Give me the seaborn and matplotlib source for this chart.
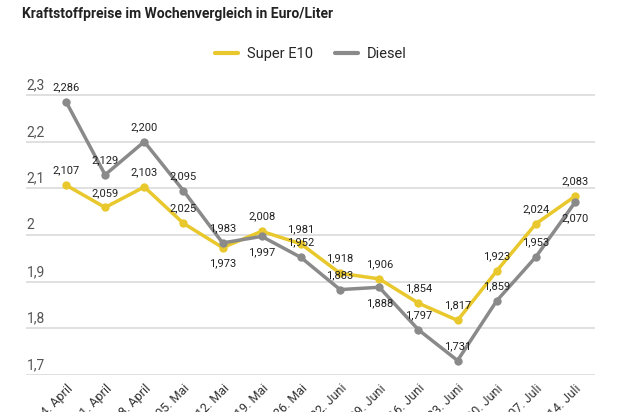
import pandas as pd
import seaborn as sns
import matplotlib.pyplot as plt

# Data
wochen = ["14. April", "21. April", "28. April", "05. Mai", "12. Mai", "19. Mai", "26. Mai",
          "02. Juni", "09. Juni", "16. Juni", "23. Juni", "30. Juni", "07. Juli", "14. Juli"]
super_e10 = [2.107, 2.059, 2.103, 2.025, 1.973, 2.008, 1.981,
             1.918, 1.906, 1.854, 1.817, 1.923, 2.024, 2.083]
diesel = [2.286, 2.129, 2.200, 2.095, 1.983, 1.997, 1.952,
          1.883, 1.888, 1.797, 1.731, 1.859, 1.953, 2.070]

# label above (1) or below (-1) the point
pos_e10 = [1, 1, 1, 1, -1, 1, 1, 1, 1, 1, 1, 1, 1, 1]
pos_diesel = [1, 1, 1, 1, 1, -1, 1, 1, -1, 1, 1, 1, 1, -1]

gelb = "#e8c82c"
grau = "#8a8a8a"

df = pd.DataFrame({"Woche": list(range(len(wochen))) * 2,
                   "Preis": super_e10 + diesel,
                   "Sorte": ["Super E10"] * len(wochen) + ["Diesel"] * len(wochen)})

sns.set_style("white")
plt.rcParams['font.family'] = ['Roboto', 'DejaVu Sans']

fig = plt.figure(figsize=(6.3, 4.12), dpi=100)
ax = fig.add_axes([26 / 630, 1 - 375 / 412, (595 - 26) / 630, (375 - 80) / 412])

sns.lineplot(data=df, x="Woche", y="Preis", hue="Sorte", palette=[gelb, grau],
             marker="o", markersize=6, markeredgewidth=0, linewidth=2.5, ax=ax)

# Data labels
for vals, pos in [(super_e10, pos_e10), (diesel, pos_diesel)]:
    for i, (v, p) in enumerate(zip(vals, pos)):
        txt = f"{v:.3f}".replace(".", ",")
        ax.annotate(txt, (i, v), xytext=(0, 7 if p > 0 else -8), textcoords="offset points",
                    ha="center", va="bottom" if p > 0 else "top", fontsize=8, color="#222222")

ax.set_xlim(-1.02, 13.51)
ax.set_ylim(1.7, 2.3 + 0.6 * (95 - 80) / 280)
yt = [1.7, 1.8, 1.9, 2.0, 2.1, 2.2, 2.3]
ax.set_yticks(yt)
ax.set_yticklabels([])
for t in yt:
    ax.axhline(t, color="#dadada", linewidth=1.2, zorder=0)
    lab = f"{t:g}".replace(".", ",")
    ax.text(-1.0, t + 0.006, lab, ha="left", va="bottom", fontsize=10, color="#555555")

ax.set_xticks(range(len(wochen)))
ax.set_xticklabels(wochen, rotation=45, ha="right", rotation_mode="anchor",
                   fontsize=9, color="#333333")
ax.tick_params(axis="x", length=0, pad=5)
ax.tick_params(axis="y", length=0)
ax.set_xlabel("")
ax.set_ylabel("")
sns.despine(ax=ax, left=True, bottom=True, top=True, right=True)

# Legend
leg = ax.legend(loc="upper center", bbox_to_anchor=(0.5, 1 + (80 - 34) / 295), ncol=2,
                frameon=False, fontsize=10.5, handlelength=1.6, columnspacing=1.5,
                handletextpad=0.6)
for line in leg.get_lines():
    line.set_marker("")
    line.set_linewidth(3)

fig.text(22 / 630, 1 - 14 / 412, "Kraftstoffpreise im Wochenvergleich in Euro/Liter",
         fontsize=10, fontweight="bold", color="#222222", ha="left", va="center")

fig.savefig("out.png", dpi=100)
